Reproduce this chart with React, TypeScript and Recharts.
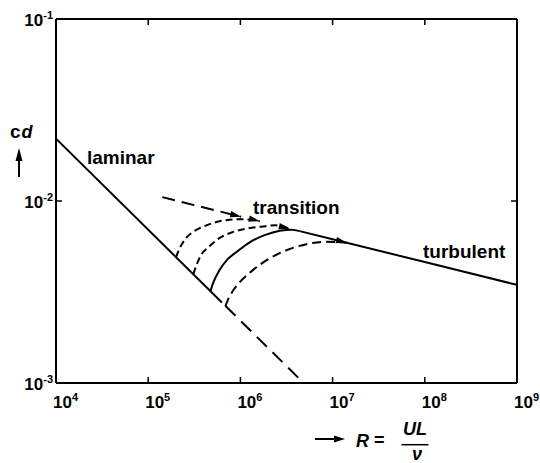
import React from "react";
import { LineChart, Line, XAxis, YAxis } from "recharts";

const FONT = '"Liberation Sans", Arial, sans-serif';

// axis ticks
const xTicks = [1e4, 1e5, 1e6, 1e7, 1e8, 1e9];
const yTicks = [1e-3, 1e-2, 1e-1];

// laminar branch (solid, then dashed continuation)
const laminarR = [1e4, 6.3e5];
const laminarCd = [0.022, 0.00277];
const laminarDashR = [6.9e5, 4.85e6];
const laminarDashCd = [0.00265, 0.001];

// turbulent branch (dashed extension to the left, solid to the right)
const turbDashR = [1.42e5, 1.02e6];
const turbDashCd = [0.0105, 0.00819];
const turbR = [4.4e6, 1e7, 1e8, 1e9];
const turbCd = [0.00683, 0.00616, 0.00462, 0.00346];

// transition curves, left to right
const trans1R = [2.0e5, 2.17e5, 2.57e5, 3.16e5, 3.89e5, 5.22e5, 7.0e5, 1.05e6, 1.62e6];
const trans1Cd = [0.0049, 0.00543, 0.00625, 0.00683, 0.00721, 0.00761, 0.00785, 0.00795, 0.00775];
const trans2R = [3.08e5, 3.33e5, 3.68e5, 4.61e5, 5.92e5, 8.2e5, 1.16e6, 1.7e6, 2.41e6, 3.43e6];
const trans2Cd = [0.00395, 0.00443, 0.00497, 0.00564, 0.00625, 0.00674, 0.00705, 0.00723, 0.00735, 0.00704];
const trans3R = [4.72e5, 5.09e5, 5.92e5, 7.24e5, 9.0e5, 1.26e6, 1.83e6, 2.67e6, 3.6e6, 4.4e6];
const trans3Cd = [0.00318, 0.00357, 0.00416, 0.00478, 0.00523, 0.00593, 0.00649, 0.00687, 0.00696, 0.00683];
const trans4R = [6.88e5, 7.42e5, 8.2e5, 9.78e5, 1.26e6, 1.62e6, 2.08e6, 3.15e6, 5.21e6, 8.24e6, 1.43e7];
const trans4Cd = [0.00264, 0.00291, 0.00318, 0.00357, 0.00403, 0.00446, 0.00484, 0.00536, 0.00579, 0.00597, 0.00589];

const zip = (R: number[], cd: number[]) => R.map((r, i) => ({ R: r, cd: cd[i] }));

// arrows all sit on the turbulent line, so point them along it
const ARROW_ANGLE = Math.atan2(0.246, 1);

const arrowDot = (n: number) => (props: any) => {
  const { cx, cy, index } = props;
  if (index !== n - 1 || cx == null || cy == null) return <g key={`d-${index}`} />;
  const L = 11;
  const w = 3.2;
  const c = Math.cos(ARROW_ANGLE);
  const s = Math.sin(ARROW_ANGLE);
  const bx = cx - L * c;
  const by = cy - L * s;
  const pts = `${cx},${cy} ${bx - w * s},${by + w * c} ${bx + w * s},${by - w * c}`;
  return <polygon key={`d-${index}`} points={pts} fill="#000" stroke="none" />;
};

// axes are mirrored so tick marks point inwards; labels are pushed back outside
const XTick = (props: any) => {
  const { x, y, payload } = props;
  const e = Math.round(Math.log10(payload.value));
  return (
    <text x={x - 3} y={y + 30.5} textAnchor="start" fontFamily={FONT} fontWeight="bold" fontSize={17} fill="#000">
      10<tspan dy={-7} fontSize={11}>{e}</tspan>
    </text>
  );
};

const YTick = (props: any) => {
  const { x, y, payload } = props;
  const e = Math.round(Math.log10(payload.value));
  return (
    <text x={x - 9} y={y + 7} textAnchor="end" fontFamily={FONT} fontWeight="bold" fontSize={17} fill="#000">
      10<tspan dy={-7} fontSize={11}>{e}</tspan>
    </text>
  );
};

const Empty = () => <g />;

export default function App() {
  const axisLine = { stroke: "#000", strokeWidth: 2 };
  const tickLine = { stroke: "#000", strokeWidth: 1.5 };
  return (
    <div style={{ position: "absolute", left: 0, top: 0, width: 540, height: 463, background: "#fff" }}>
      <LineChart width={540} height={463} margin={{ top: 19, right: 23, bottom: 80, left: 56 }}>
        <XAxis
          xAxisId="b"
          dataKey="R"
          type="number"
          scale="log"
          domain={[1e4, 1e9]}
          ticks={xTicks}
          allowDataOverflow
          height={1}
          mirror
          axisLine={axisLine}
          tickLine={tickLine}
          tickSize={6}
          tickMargin={0}
          tick={<XTick />}
          interval={0}
        />
        <XAxis
          xAxisId="t"
          orientation="top"
          dataKey="R"
          type="number"
          scale="log"
          domain={[1e4, 1e9]}
          ticks={xTicks}
          allowDataOverflow
          height={1}
          mirror
          axisLine={axisLine}
          tickLine={tickLine}
          tickSize={6}
          tick={<Empty />}
          interval={0}
        />
        <YAxis
          yAxisId="l"
          dataKey="cd"
          type="number"
          scale="log"
          domain={[1e-3, 1e-1]}
          ticks={yTicks}
          allowDataOverflow
          width={1}
          mirror
          axisLine={axisLine}
          tickLine={tickLine}
          tickSize={6}
          tickMargin={0}
          tick={<YTick />}
          interval={0}
        />
        <YAxis
          yAxisId="r"
          orientation="right"
          dataKey="cd"
          type="number"
          scale="log"
          domain={[1e-3, 1e-1]}
          ticks={yTicks}
          allowDataOverflow
          width={1}
          mirror
          axisLine={axisLine}
          tickLine={tickLine}
          tickSize={6}
          tick={<Empty />}
          interval={0}
        />
        <Line xAxisId="b" yAxisId="l" data={zip(laminarR, laminarCd)} dataKey="cd" type="linear" stroke="#000" strokeWidth={2} dot={false} isAnimationActive={false} />
        <Line xAxisId="b" yAxisId="l" data={zip(laminarDashR, laminarDashCd)} dataKey="cd" type="linear" stroke="#000" strokeWidth={2} strokeDasharray="14 8" dot={false} isAnimationActive={false} />
        <Line xAxisId="b" yAxisId="l" data={zip(turbDashR, turbDashCd)} dataKey="cd" type="linear" stroke="#000" strokeWidth={2} strokeDasharray="13 7" dot={arrowDot(turbDashR.length)} isAnimationActive={false} />
        <Line xAxisId="b" yAxisId="l" data={zip(turbR, turbCd)} dataKey="cd" type="linear" stroke="#000" strokeWidth={2} dot={false} isAnimationActive={false} />
        <Line xAxisId="b" yAxisId="l" data={zip(trans1R, trans1Cd)} dataKey="cd" type="monotone" stroke="#000" strokeWidth={2} strokeDasharray="7 4" dot={arrowDot(trans1R.length)} isAnimationActive={false} />
        <Line xAxisId="b" yAxisId="l" data={zip(trans2R, trans2Cd)} dataKey="cd" type="monotone" stroke="#000" strokeWidth={2} strokeDasharray="7 4" dot={arrowDot(trans2R.length)} isAnimationActive={false} />
        <Line xAxisId="b" yAxisId="l" data={zip(trans3R, trans3Cd)} dataKey="cd" type="monotone" stroke="#000" strokeWidth={2} dot={false} isAnimationActive={false} />
        <Line xAxisId="b" yAxisId="l" data={zip(trans4R, trans4Cd)} dataKey="cd" type="monotone" stroke="#000" strokeWidth={2} strokeDasharray="9 5" dot={arrowDot(trans4R.length)} isAnimationActive={false} />
        <Line xAxisId="t" yAxisId="r" data={zip(turbR, turbCd)} dataKey="cd" stroke="none" dot={false} isAnimationActive={false} />
      </LineChart>
      <svg width={540} height={463} style={{ position: "absolute", left: 0, top: 0, pointerEvents: "none" }}>
        <g fontFamily={FONT} fontWeight="bold" fill="#000">
          <text x={87} y={164} fontSize={19}>laminar</text>
          <text x={253} y={214} fontSize={19}>transition</text>
          <text x={423} y={258} fontSize={19}>turbulent</text>
          <text x={10} y={137.5} fontSize={19}>c</text>
          <text x={21.5} y={138} fontSize={18} fontStyle="italic">d</text>
          <text x={356} y={446.5} fontSize={18} fontStyle="italic">R</text>
          <text x={374} y={446} fontSize={18}>=</text>
          <text x={415} y={435} fontSize={18} fontStyle="italic" textAnchor="middle">UL</text>
          <text x={417} y={460} fontSize={18} fontStyle="italic" textAnchor="middle">ν</text>
        </g>
        <line x1={19} y1={158} x2={19} y2={177} stroke="#000" strokeWidth={2} />
        <polygon points="19,148 15.5,161 22.5,161" fill="#000" />
        <line x1={315} y1={439} x2={336} y2={439} stroke="#000" strokeWidth={2} />
        <polygon points="345,439 334,435.5 334,442.5" fill="#000" />
        <line x1={401.5} y1={444.7} x2={428.5} y2={444.7} stroke="#000" strokeWidth={1.5} />
      </svg>
    </div>
  );
}
